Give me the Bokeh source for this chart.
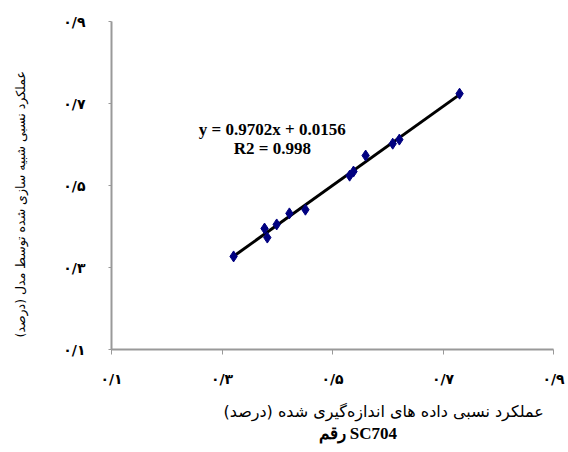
import numpy as np
from bokeh.plotting import figure
from bokeh.models import Range1d, Label, FixedTicker, Title
from bokeh.embed import file_html
from bokeh.resources import INLINE

# Data
measured = [0.321, 0.377, 0.382, 0.399, 0.422, 0.451, 0.531, 0.538, 0.560, 0.609, 0.621, 0.730]
simulated = [0.327, 0.395, 0.373, 0.405, 0.432, 0.441, 0.524, 0.534, 0.573, 0.602, 0.612, 0.724]
tick_values = [0.1, 0.3, 0.5, 0.7, 0.9]
tick_labels = ["۰/۱", "۰/۳", "۰/۵", "۰/۷", "۰/۹"]
equation_text = "y = 0.9702x + 0.0156"
r2_text = "R2 = 0.998"
x_title = "\u200fعملکرد نسبی داده های اندازه‌گیری شده (درصد)\u200f"
y_title = "\u200fعملکرد نسبی شبیه سازی شده توسط مدل  (درصد)\u200f"
sub_title = "رقم SC704"

p = figure(width=566, height=450, output_backend="svg", toolbar_location=None,
           x_range=Range1d(0.1, 0.9), y_range=Range1d(0.1, 0.9),
           min_border_left=111, min_border_right=13, min_border_top=21,
           min_border_bottom=101)
p.outline_line_color = None
p.grid.visible = False
p.background_fill_color = "white"

label_map = {v: l for v, l in zip(tick_values, tick_labels)}
for ax in (p.xaxis[0], p.yaxis[0]):
    ax.ticker = FixedTicker(ticks=tick_values)
    ax.major_label_overrides = label_map
    ax.minor_tick_line_color = None
    ax.axis_line_color = "#999999"
    ax.axis_line_width = 2
    ax.major_tick_line_color = "#999999"
    ax.major_tick_in = 0
    ax.major_label_text_font = "DejaVu Sans"
    ax.major_label_text_font_style = "bold"
    ax.major_label_text_font_size = "14px"
    ax.major_label_text_color = "black"
    # invisible spacer label, only reserves room between tick labels and titles
    ax.axis_label = "\u00a0"
    ax.axis_label_text_font_size = "1px"

p.xaxis[0].major_tick_out = 5
p.xaxis[0].major_label_standoff = 16
p.xaxis[0].axis_label_standoff = 6

p.yaxis[0].major_tick_out = 3
p.yaxis[0].major_label_standoff = 23
p.yaxis[0].major_label_orientation = "horizontal"
p.yaxis[0].axis_label_standoff = 29

# Trend line (least squares)
coef = np.polyfit(measured, simulated, 1)
xs = np.array([min(measured), max(measured)])
p.line(xs, np.polyval(coef, xs), line_color="black", line_width=3)

p.scatter(measured, simulated, marker="diamond", size=11,
          fill_color="#000080", line_color="#000080")

eq_style = dict(text_align="center", text_baseline="middle", text_font="Liberation Serif",
                text_font_style="bold", text_font_size="17px", text_color="black")
p.add_layout(Label(x=0.391, y=0.637, text=equation_text, **eq_style))
p.add_layout(Label(x=0.391, y=0.590, text=r2_text, **eq_style))

# Axis titles
p.add_layout(Title(text=x_title, align="left", offset=112, standoff=0,
                   text_font="DejaVu Sans", text_font_style="normal",
                   text_font_size="16px", text_color="black"), "below")
p.add_layout(Title(text=sub_title, align="left", offset=207, standoff=3,
                   text_font="Liberation Serif", text_font_style="bold",
                   text_font_size="17px", text_color="black"), "below")
p.add_layout(Title(text=y_title, align="left", offset=12, standoff=0,
                   text_font="DejaVu Sans", text_font_style="normal",
                   text_font_size="12.5px", text_color="black"), "left")

open("out.html", "w").write(file_html(p, INLINE))
